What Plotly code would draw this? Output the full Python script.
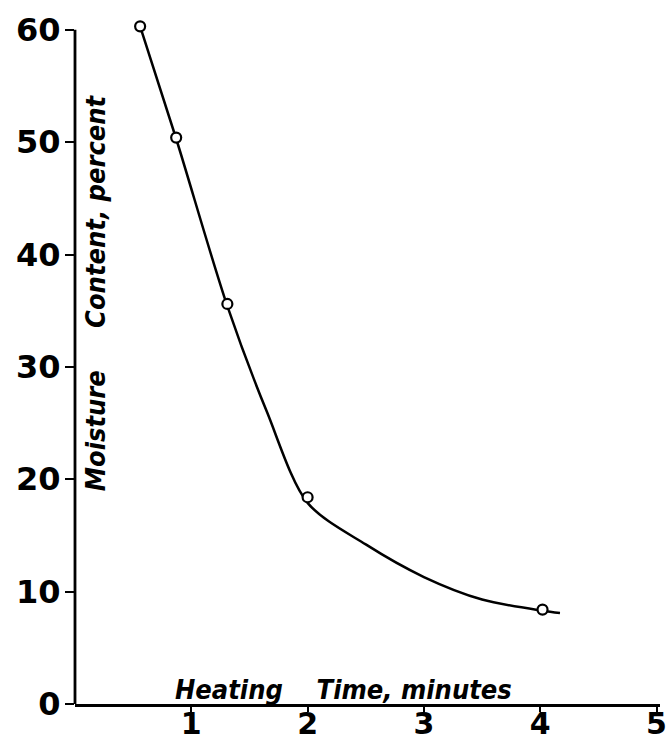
import plotly.graph_objects as go

# Measured drying points: heating time (minutes) vs. moisture content (percent)
heating_time = [0.56, 0.87, 1.31, 2.00, 4.02]
moisture_pct = [60.3, 50.4, 35.6, 18.4, 8.4]

# Hand-faired curve through the measurements, carried slightly past the last point
curve_time = [0.56, 0.87, 1.31, 1.65, 2.00, 2.50, 3.00, 3.50, 4.02, 4.17]
curve_moisture = [60.3, 50.3, 35.4, 26.0, 17.9, 14.2, 11.3, 9.3, 8.3, 8.1]

x_ticks = [1, 2, 3, 4, 5]
y_ticks = [0, 10, 20, 30, 40, 50, 60]

Y_TOP = 60.6  # a little headroom so the first reading is not clipped

NBSP = "\u00a0"
title_font = dict(family="DejaVu Sans Condensed, sans-serif", size=27, color="black")

fig = go.Figure()

fig.add_trace(go.Scatter(
    x=curve_time, y=curve_moisture, mode="lines",
    line=dict(color="black", width=2.5, shape="spline", smoothing=0.85),
    hoverinfo="skip", showlegend=False, cliponaxis=False,
))

fig.add_trace(go.Scatter(
    x=heating_time, y=moisture_pct, mode="markers",
    marker=dict(symbol="circle", size=10, color="white",
                line=dict(color="black", width=2.2)),
    showlegend=False, cliponaxis=False,
))

# vertical axis line drawn only up to the top tick
fig.add_shape(type="line", xref="paper", yref="y", x0=0, x1=0, y0=0, y1=max(y_ticks),
              line=dict(color="black", width=2.8), layer="above")

fig.add_annotation(
    text=f"<b><i>Heating{NBSP*4}Time, minutes</i></b>",
    x=2.31, y=0, xref="x", yref="y", xanchor="center", yanchor="bottom",
    yshift=-3, showarrow=False, font=title_font,
)

fig.add_annotation(
    text=f"<b><i>Moisture{NBSP*5}Content, percent</i></b>",
    x=0, y=36.6, xref="x", yref="y", xanchor="left", yanchor="middle",
    xshift=3, textangle=-90, showarrow=False, font=title_font,
)

tick_font = dict(family="DejaVu Sans, sans-serif", size=32, color="black",
                 weight="bold")
x_tick_font = dict(tick_font, size=30)

fig.update_layout(
    width=670, height=742,
    margin=dict(l=75, r=10, t=23, b=38),
    paper_bgcolor="white", plot_bgcolor="white",
    xaxis=dict(
        range=[0, 5.03], tickvals=x_ticks, ticktext=[str(v) for v in x_ticks],
        showgrid=False, zeroline=False, showline=True, linecolor="black",
        linewidth=2.5, ticks="outside", ticklen=5, tickwidth=2, tickcolor="black",
        tickfont=x_tick_font, automargin=False, ticklabelstandoff=-14,
    ),
    yaxis=dict(
        range=[0, Y_TOP], tickvals=y_ticks, ticktext=[str(v) for v in y_ticks],
        showgrid=False, zeroline=False, showline=False,
        ticks="outside", ticklen=9, tickwidth=2, tickcolor="black",
        tickfont=tick_font, automargin=False, ticklabelstandoff=-2,
    ),
)

fig.write_html("out.html")
